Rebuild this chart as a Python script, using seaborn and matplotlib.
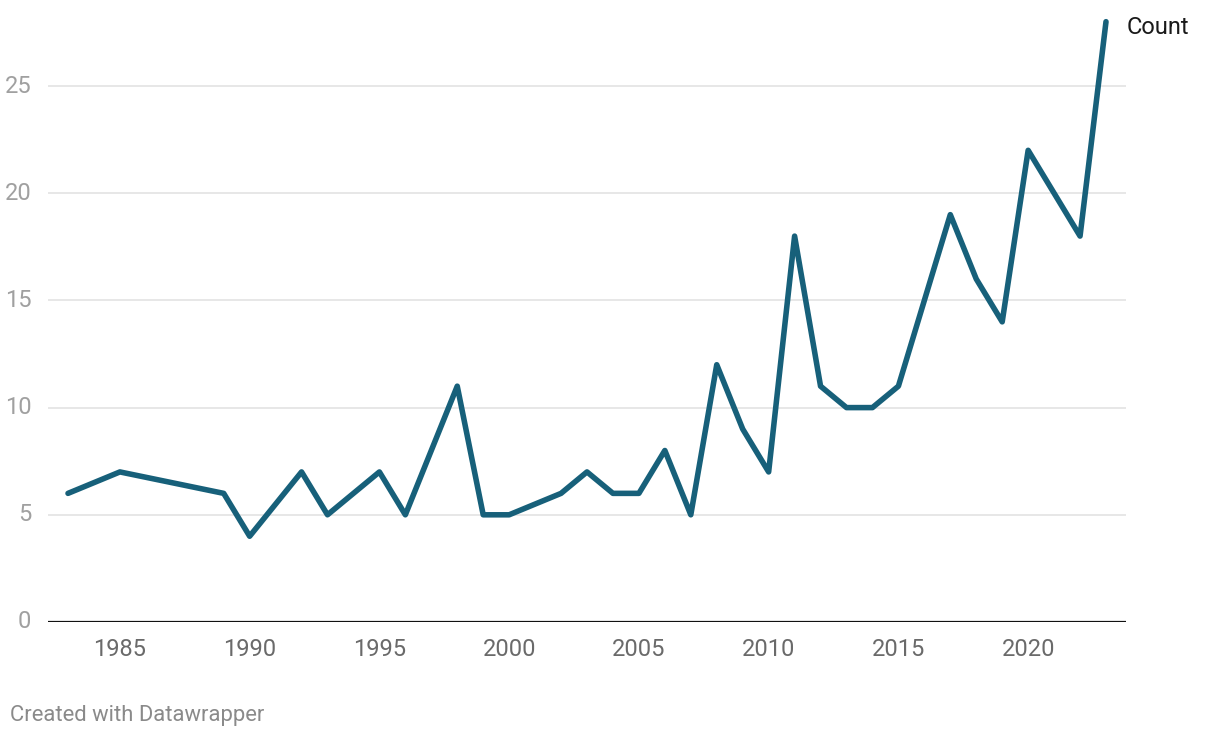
import matplotlib
matplotlib.use("Agg")
import matplotlib.pyplot as plt
import seaborn as sns
import pandas as pd

years = [1983, 1985, 1989, 1990, 1992, 1993, 1995, 1996, 1998, 1999, 2000,
         2002, 2003, 2004, 2005, 2006, 2007, 2008, 2009, 2010, 2011, 2012,
         2013, 2014, 2015, 2017, 2018, 2019, 2020, 2022, 2023]
counts = [6, 7, 6, 4, 7, 5, 7, 5, 11, 5, 5,
          6, 7, 6, 6, 8, 5, 12, 9, 7, 18, 11,
          10, 10, 11, 19, 16, 14, 22, 18, 28]
x_ticks = [1985, 1990, 1995, 2000, 2005, 2010, 2015, 2020]
y_ticks = [0, 5, 10, 15, 20, 25]
series_name = "Count"
credit = "Created with Datawrapper"

df = pd.DataFrame({"Year": years, "Count": counts})

sns.set_theme(style="white")
plt.rcParams["font.family"] = ["Roboto", "DejaVu Sans"]

fig = plt.figure(figsize=(12.2, 7.38), dpi=100)
ax = fig.add_axes([48/1220, 116/738, (1126-48)/1220, (622-17.4)/738])

sns.lineplot(data=df, x="Year", y="Count", ax=ax, color="#17607a",
             linewidth=4.0, solid_joinstyle="round", solid_capstyle="round")

ax.set_xlim(1983 - 20/25.95, 2023 + 20/25.95)
ax.set_ylim(0, 28.2)
ax.set_xticks(x_ticks)
ax.set_xticklabels([str(t) for t in x_ticks])
ax.set_yticks(y_ticks)
ax.set_yticklabels([str(t) for t in y_ticks])
ax.set_xlabel("")
ax.set_ylabel("")

for y in y_ticks[1:]:
    ax.axhline(y, color="#e3e3e3", linewidth=1.2, zorder=0)
ax.axhline(0, color="#111111", linewidth=1.6, zorder=3)

for s in ax.spines.values():
    s.set_visible(False)
ax.grid(False)
ax.tick_params(axis="x", length=0, pad=11.5, labelsize=17, labelcolor="#6a6a6a")
ax.tick_params(axis="y", length=0, pad=12, labelsize=17, labelcolor="#a0a0a0")
for lab in ax.get_yticklabels():
    lab.set_verticalalignment("center")

ax.annotate(series_name, xy=(years[-1], counts[-1]), xytext=(15, -4),
            textcoords="offset points", fontsize=17, color="#1a1a1a",
            ha="left", va="center", annotation_clip=False)

fig.text(10/1220, 1 - 715/738, credit, fontsize=15.8, color="#8a8a8a",
         ha="left", va="center")

fig.savefig("out.png", dpi=100)
